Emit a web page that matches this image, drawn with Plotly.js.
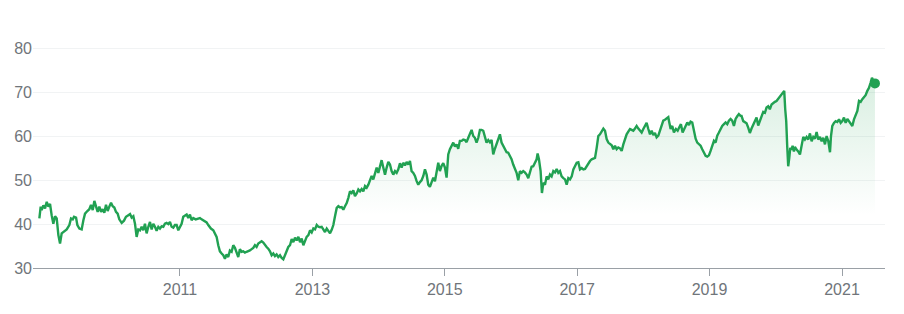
<!DOCTYPE html>
<html>
<head>
<meta charset="utf-8">
<script src="https://cdn.plot.ly/plotly-3.0.1.min.js"></script>
<style>html,body{margin:0;padding:0;background:#fff;}#chart{width:904px;height:314px;}</style>
</head>
<body>
<div id="chart"></div>
<script>
// Decimal years
const years = [
2008.875,2008.895,2008.910,2008.935,2008.961,2008.986,2009.011,2009.036,2009.061,2009.086,2009.112,2009.137,2009.162,2009.187,2009.212,2009.238,2009.288,2009.328,2009.353,2009.379,2009.399,2009.429,2009.449,2009.479,2009.514,2009.540,2009.565,2009.600,2009.630,2009.655,2009.681,2009.706,2009.731,2009.756,2009.781,2009.807,2009.832,2009.857,2009.882,2009.907,2009.932,2009.958,2009.983,2010.008,2010.033,2010.058,2010.083,2010.119,2010.154,2010.184,2010.214,2010.245,2010.270,2010.295,2010.320,2010.345,2010.370,2010.396,2010.421,2010.446,2010.471,2010.496,2010.522,2010.547,2010.572,2010.597,2010.622,2010.647,2010.673,2010.698,2010.723,2010.748,2010.773,2010.798,2010.824,2010.849,2010.874,2010.899,2010.924,2010.950,2010.975,2011.000,2011.025,2011.050,
2011.065,2011.101,2011.126,2011.151,2011.176,2011.201,2011.237,2011.267,2011.302,2011.327,2011.368,2011.403,2011.428,2011.468,2011.504,2011.529,2011.554,2011.579,2011.604,2011.630,2011.655,2011.680,2011.705,2011.730,2011.755,2011.781,2011.806,2011.831,2011.856,2011.881,2011.906,2011.932,2011.957,2011.982,2012.007,2012.032,2012.057,2012.083,2012.108,2012.133,2012.158,2012.183,2012.208,2012.234,2012.259,2012.284,2012.309,2012.334,2012.360,2012.385,2012.410,2012.435,2012.460,2012.485,2012.511,2012.536,2012.561,2012.586,2012.611,2012.636,2012.662,2012.687,2012.712,2012.737,2012.762,2012.788,2012.813,2012.838,2012.863,2012.888,2012.913,2012.939,2012.964,2012.989,2013.014,2013.039,2013.065,2013.090,2013.115,2013.140,2013.165,2013.190,2013.216,2013.241,
2013.266,2013.291,2013.316,2013.341,2013.367,2013.392,2013.417,2013.442,2013.467,2013.492,2013.518,2013.543,2013.568,2013.593,2013.618,2013.643,2013.669,2013.694,2013.719,2013.744,2013.769,2013.795,2013.820,2013.845,2013.870,2013.895,2013.920,2013.946,2013.971,2013.996,2014.021,2014.046,2014.071,2014.097,2014.122,2014.147,2014.172,2014.197,2014.222,2014.248,2014.273,2014.298,2014.323,2014.348,2014.373,2014.399,2014.424,2014.449,2014.474,2014.499,2014.525,2014.550,2014.575,2014.600,2014.625,2014.650,2014.676,2014.701,2014.726,2014.751,2014.776,2014.801,2014.827,2014.852,2014.877,2014.902,2014.927,2014.953,2014.978,2015.003,2015.028,2015.053,2015.078,2015.104,2015.129,2015.154,2015.179,2015.204,2015.229,
2015.255,2015.280,2015.305,2015.330,2015.356,2015.381,2015.406,2015.431,2015.456,2015.481,2015.507,2015.532,2015.557,2015.582,2015.607,2015.632,2015.658,2015.683,2015.708,2015.733,2015.758,2015.784,2015.809,2015.834,2015.859,2015.884,2015.909,2015.935,2015.960,2015.985,2016.010,2016.035,2016.060,2016.086,2016.111,2016.136,2016.161,2016.186,2016.211,2016.237,2016.262,2016.287,2016.312,2016.337,2016.363,2016.388,2016.403,2016.423,2016.448,2016.468,2016.489,2016.514,2016.539,2016.564,2016.589,2016.614,2016.640,2016.665,2016.690,2016.715,2016.740,2016.765,2016.791,2016.816,2016.841,2016.866,2016.891,2016.917,2016.942,2016.967,2016.992,2017.017,2017.042,2017.068,2017.093,2017.118,2017.143,2017.168,2017.193,2017.219,2017.244,2017.269,2017.294,2017.319,2017.344,
2017.370,2017.395,2017.420,2017.445,2017.470,2017.495,2017.521,2017.546,2017.571,2017.596,2017.621,2017.647,2017.672,2017.697,2017.722,2017.747,2017.772,2017.798,2017.823,2017.848,2017.873,2017.898,2017.924,2017.949,2017.974,2017.999,2018.024,2018.049,2018.075,2018.100,2018.125,2018.150,2018.175,2018.200,2018.226,2018.251,2018.276,2018.301,2018.326,2018.351,2018.377,2018.392,2018.412,2018.437,2018.462,2018.492,2018.518,2018.543,2018.568,2018.593,2018.618,2018.644,2018.664,2018.689,2018.714,2018.739,2018.764,2018.790,2018.815,2018.840,2018.865,2018.890,2018.915,2018.941,2018.966,2018.991,2019.016,2019.041,2019.067,2019.092,2019.117,2019.142,2019.167,2019.192,2019.218,2019.243,2019.268,2019.293,2019.318,2019.343,2019.369,2019.394,2019.419,2019.444,2019.469,
2019.484,2019.510,2019.535,2019.560,2019.585,2019.610,2019.635,2019.661,2019.686,2019.711,2019.736,2019.761,2019.787,2019.812,2019.837,2019.862,2019.887,2019.912,2019.938,2019.963,2019.988,2020.013,2020.038,2020.063,2020.089,2020.114,2020.129,2020.144,2020.159,2020.174,2020.189,2020.205,2020.220,2020.240,2020.255,2020.275,2020.290,2020.315,2020.340,2020.366,2020.391,2020.416,2020.441,2020.466,2020.491,2020.517,2020.542,2020.567,2020.592,2020.617,2020.642,2020.668,2020.693,2020.718,2020.743,2020.768,2020.794,2020.819,2020.834,2020.854,2020.879,2020.904,2020.929,2020.955,2020.980,2021.005,2021.030,2021.055,2021.081,2021.106,2021.131,2021.156,2021.181,2021.206,2021.232,2021.257,2021.282,2021.307,2021.332,2021.357,2021.383,2021.408,2021.433,2021.453,2021.473,2021.498
];
// Closing prices
const prices = [
41.3,44,43.2,44.3,43.6,45.1,44,44.6,42,40.1,41.8,41.3,37.5,35.6,37.9,38.2,38.8,39.8,41.3,41.1,41.7,41.5,39.8,39,38.8,40.9,42.4,43,43.4,44.4,43.2,45.3,44,42.8,44,42.8,43.4,42.6,44.4,43,44,44.9,44.1,43.8,42.8,42.4,41.1,40.3,40.8,41.7,42,42.3,41.5,41.8,40.1,37.1,38.8,38.6,39.4,38.6,40.1,37.9,39.4,40.5,38.8,40.1,39.4,38.5,39.4,39,39.5,39.4,40.1,40.3,40,40.5,39.4,39.2,39.8,39.8,38.6,39.4,40.1,41.7,
41.9,42.2,41.4,42.2,40.9,41.4,41.1,41.3,41.4,41.1,40.7,40.4,39.8,39,38.6,37.9,37.1,35.2,33.8,33.3,32.9,32.1,33.1,32.5,34,33.7,35.2,34.6,33.3,32.5,34.3,33.7,33.8,33.5,33.7,33.8,34,34.3,34.6,35.2,34.8,35.6,35.9,36.1,35.8,35.2,34.8,34.4,33.8,32.9,33.3,32.7,33.1,32.5,32.9,32.3,32,32.9,34,34.8,35.2,36.6,35.9,36.9,36.3,37.1,35.9,36.7,35.2,36.3,37.1,37.5,38.6,38.1,39,38.8,39.8,39.4,39.3,39.4,38.8,38.2,39,38.3,
37.9,38.7,39.8,41.8,43.7,44.1,43.8,43.9,43.3,44.1,44.8,46,47.5,47.1,47.7,46.4,47,47.9,47.5,48,47.5,48.7,48.3,49,49.8,51,50.2,51.7,52.9,51.7,53.3,54.6,52.9,51.3,52.9,54.2,53.6,52.1,51.3,52.1,51.7,52.5,53.9,52.9,54,53.4,54.2,53.6,54.4,52.1,51.7,51,49.8,49,49.6,50,51,52.5,51.3,49,48.5,49.4,50.6,49.8,51.7,54,52.1,53.3,53.9,52.9,50.6,55.9,57.1,57.9,58.6,57.7,58.2,57.2,59,
59,59.3,59.2,58.7,59.7,60.7,61.5,60.1,59.7,58.6,59.7,61.5,61.5,61.3,60.1,58.6,59.2,58.7,59.2,55.9,57.2,58.2,59.5,60.5,58.6,57.8,56.9,56.4,56.3,55.7,54.8,53.6,52.8,51.7,50,52.1,51.7,52.1,51.8,51.3,50.5,52.1,53.1,53.2,54,54.8,56.1,54.8,52.1,47.1,49.4,49,50.9,50.2,51.3,50.9,52.1,51.8,52.6,51.7,52.1,50.9,50.5,50.2,49,50.5,50.2,50.9,52.5,53.4,54,54.1,52.5,52.8,52.5,52.6,53.2,54,54.4,54.8,54.9,55.1,57.4,60.1,60.5,
61.3,61.8,61.3,59.4,58.6,58.2,58,57.1,57.9,57.1,57.5,57.3,56.7,58.2,59.4,60.5,61.1,61.7,61.5,61.3,61.8,62.4,61.8,61.3,60.9,61.7,62.6,63.1,61.7,60.5,61.3,60.3,60.8,59.8,60.2,61.3,62.4,63.6,63.8,64.1,64.4,63.2,61.7,62.4,60.9,61.7,61.3,62.1,62.8,60.9,61.8,62.4,63.2,62.6,63.4,63.2,60.9,59.5,58.6,58.2,57.9,57.1,56.2,55.6,55.4,55.7,56.7,57.9,59,58.6,60.2,60.9,61.7,62.4,62.8,63.2,62.8,63.6,64,63.6,62.4,64,64.6,65.1,64.7,
64.7,63.5,63.3,63,62,60.8,61.8,62.7,63.7,64.3,62.5,63.5,65,65.6,65.4,66.6,66.9,66.2,67.3,67.7,67.9,68.1,68.6,68.9,69.6,70.2,70.4,66.2,63.5,57.8,53.2,55.1,57.4,57,57.9,56.6,57.6,57,56.6,55.9,58.2,59.9,59.3,59.9,59.3,60.7,58.9,59.9,59.5,61,59.3,59.9,58.9,59.7,58.2,60.1,58.9,56.4,60.1,62.4,63.1,63.5,63.3,63.9,63.1,63.5,64.3,63.1,64,63.5,63,62.4,63.9,64.7,65.8,68.1,67.9,68.5,68.9,69.4,70.4,71.1,72.3,73.4,72.7,72.1
];
const xTickYears = [2011, 2013, 2015, 2017, 2019, 2021];
const yTickValues = [30, 40, 50, 60, 70, 80];

function toDate(t) {
  const y = Math.floor(t);
  const start = Date.UTC(y, 0, 1), end = Date.UTC(y + 1, 0, 1);
  const ms = start + (t - y) * (end - start);
  return new Date(ms).toISOString().slice(0, 19).replace('T', ' ');
}
const dates = years.map(toDate);
const green = '#21a152';

const line = {
  x: dates, y: prices, type: 'scatter', mode: 'lines',
  line: {color: green, width: 2.4},
  fill: 'tozeroy',
  fillgradient: {type: 'vertical', start: 42, stop: 73,
    colorscale: [[0, 'rgba(33,161,82,0)'], [1, 'rgba(33,161,82,0.17)']]},
  hoverinfo: 'x+y'
};
const last = {
  x: [dates[dates.length - 1]], y: [prices[prices.length - 1]],
  type: 'scatter', mode: 'markers',
  marker: {color: green, size: 10}, hoverinfo: 'skip'
};

const layout = {
  width: 904, height: 314,
  margin: {l: 33, r: 19, t: 40, b: 46},
  paper_bgcolor: '#fff', plot_bgcolor: '#fff',
  showlegend: false,
  font: {family: 'Liberation Sans, Arial, sans-serif', size: 16, color: '#70757a'},
  xaxis: {
    type: 'date',
    range: [toDate(2008.779), toDate(2021.650)],
    tickmode: 'array',
    tickvals: xTickYears.map(y => y + '-01-01'),
    ticktext: xTickYears.map(String),
    showgrid: false, zeroline: false,
    showline: true, linecolor: '#9aa0a6', linewidth: 1,
    ticks: 'outside', ticklen: 7, tickcolor: '#9aa0a6', tickwidth: 1,
    tickfont: {size: 16, color: '#70757a'}
  },
  yaxis: {
    range: [30, 82],
    tickvals: yTickValues,
    showgrid: true, gridcolor: '#f1f3f4', gridwidth: 1,
    zeroline: false, showline: false, ticks: '',
    tickfont: {size: 16, color: '#70757a'}
  }
};

Plotly.newPlot('chart', [line, last], layout, {displayModeBar: false, staticPlot: true});
</script>
</body>
</html>
